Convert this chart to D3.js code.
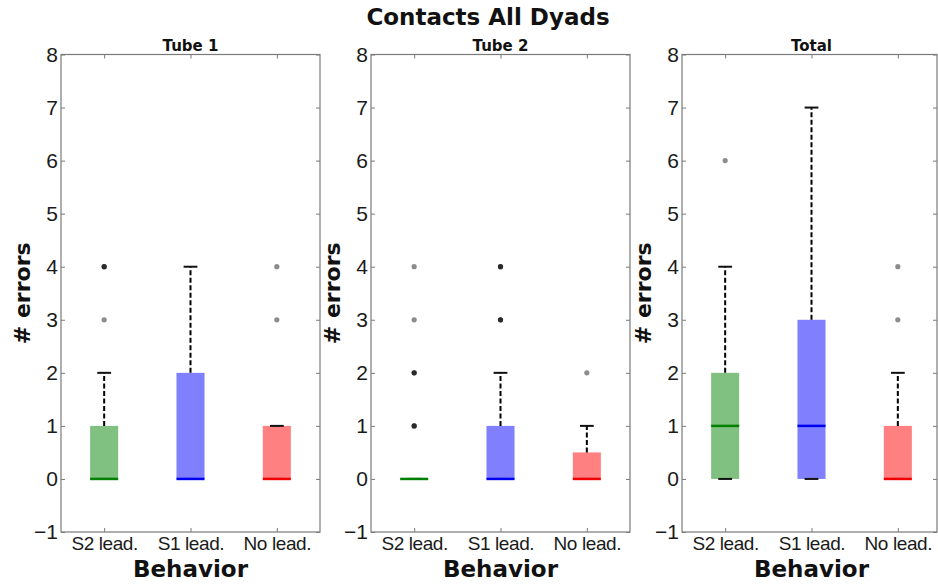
<!DOCTYPE html>
<html>
<head>
<meta charset="utf-8">
<script src="https://cdn.jsdelivr.net/npm/d3@7"></script>
<style>
  html, body { margin: 0; padding: 0; background: #fff; }
  svg { display: block; }
</style>
</head>
<body>
<svg id="chart" width="938" height="584"></svg>
<script>
// ---- data ----
const chartTitle = "Contacts All Dyads";
const panelTitles = ["Tube 1", "Tube 2", "Total"];
const categories = ["S2 lead.", "S1 lead.", "No lead."];
const yTicks = [-1, 0, 1, 2, 3, 4, 5, 6, 7, 8];
const xLabel = "Behavior";
const yLabel = "# errors";
// per panel, per category
const q1Values = [[0, 0, 0], [0, 0, 0], [0, 0, 0]];
const medianValues = [[0, 0, 0], [0, 0, 0], [1, 1, 0]];
const q3Values = [[1, 2, 1], [0, 1, 0.5], [2, 3, 1]];
const whiskerLowValues = [[0, 0, 0], [0, 0, 0], [0, 0, 0]];
const whiskerHighValues = [[2, 4, 1], [0, 2, 1], [4, 7, 2]];
// outliers (repeated values = overlapping points, drawn darker)
const outlierValues = [
  [[3, 4, 4, 4], [], [3, 4]],
  [[1, 1, 1, 2, 2, 2, 3, 4], [3, 3, 3, 4, 4, 4], [2]],
  [[6], [], [3, 4]]
];
const boxFills = ["#80c080", "#8080ff", "#ff8080"];
const medianColors = ["#007f00", "#0000f0", "#f00000"];

// ---- layout ----
const svg = d3.select("#chart");
const panelLefts = [61, 371, 682];
const panelWidth = 259;
const plotTop = 54.5, plotBottom = 532;
const y = d3.scaleLinear().domain([-1, 8]).range([plotBottom, plotTop]);
const boxW = 0.325, capW = 0.16;
const spineColor = "#7a7a7a";

svg.append("text")
  .attr("x", 488).attr("y", 25)
  .attr("text-anchor", "middle")
  .style("font-family", "DejaVu Sans").style("font-weight", "bold")
  .style("font-size", "23px").attr("fill", "#111")
  .text(chartTitle);

panelTitles.forEach((pt, p) => {
  const left = panelLefts[p];
  const right = Math.min(left + panelWidth, 937);
  const x = d3.scaleLinear().domain([0.5, 3.5]).range([left, left + panelWidth]);
  const g = svg.append("g");

  // boxes
  categories.forEach((c, i) => {
    const cx = x(i + 1);
    const hw = (x(1 + boxW / 2) - x(1));
    const cw = (x(1 + capW / 2) - x(1));
    const q1 = q1Values[p][i], q3 = q3Values[p][i];
    if (q3 > q1) {
      g.append("rect")
        .attr("x", cx - hw).attr("width", 2 * hw)
        .attr("y", y(q3)).attr("height", y(q1) - y(q3))
        .attr("fill", boxFills[i]);
    }
    // whiskers
    g.append("line")
      .attr("x1", cx).attr("x2", cx)
      .attr("y1", y(q3)).attr("y2", y(whiskerHighValues[p][i]))
      .attr("stroke", "#000").attr("stroke-width", 2)
      .attr("stroke-dasharray", "5,2.5");
    g.append("line")
      .attr("x1", cx).attr("x2", cx)
      .attr("y1", y(q1)).attr("y2", y(whiskerLowValues[p][i]))
      .attr("stroke", "#000").attr("stroke-width", 2)
      .attr("stroke-dasharray", "5,2.5");
    // caps
    [whiskerHighValues[p][i], whiskerLowValues[p][i]].forEach(v => {
      g.append("line")
        .attr("x1", cx - cw).attr("x2", cx + cw)
        .attr("y1", y(v)).attr("y2", y(v))
        .attr("stroke", "#111").attr("stroke-width", 2);
    });
    // median
    g.append("line")
      .attr("x1", cx - hw).attr("x2", cx + hw)
      .attr("y1", y(medianValues[p][i])).attr("y2", y(medianValues[p][i]))
      .attr("stroke", medianColors[i]).attr("stroke-width", 2.5);
    // outliers
    g.selectAll(null).data(outlierValues[p][i]).enter().append("circle")
      .attr("cx", cx).attr("cy", d => y(d)).attr("r", 2.6)
      .attr("fill", "#000").attr("fill-opacity", 0.45);
  });

  // axes (inward ticks)
  const axLeft = g.append("g").attr("transform", `translate(${left},0)`)
    .call(d3.axisLeft(y).tickValues(yTicks).tickSize(-4).tickPadding(3));
  const axRight = g.append("g").attr("transform", `translate(${right},0)`)
    .call(d3.axisRight(y).tickValues(yTicks).tickSize(-4).tickFormat(""));
  const axTop = g.append("g").attr("transform", `translate(0,${plotTop})`)
    .call(d3.axisTop(x).tickValues([1, 2, 3]).tickSize(-4).tickFormat(""));
  const axBottom = g.append("g").attr("transform", `translate(0,${plotBottom})`)
    .call(d3.axisBottom(x).tickValues([1, 2, 3]).tickSize(-4).tickPadding(5)
      .tickFormat((d, i) => categories[i]));
  [axLeft, axRight, axTop, axBottom].forEach(a => {
    a.select(".domain").remove();
    a.selectAll(".tick line").attr("stroke", spineColor);
    a.selectAll("text").style("font-family", "Liberation Sans, Arial, sans-serif")
      .attr("fill", "#1a1a1a");
  });
  axLeft.selectAll("text").style("font-size", "21px");
  axBottom.selectAll("text").style("font-size", "19px").style("letter-spacing", "-0.4px");

  // frame
  g.append("rect")
    .attr("x", left).attr("y", plotTop)
    .attr("width", right - left).attr("height", plotBottom - plotTop)
    .attr("fill", "none").attr("stroke", spineColor).attr("stroke-width", 1.2);

  // panel title
  g.append("text")
    .attr("x", left + panelWidth / 2).attr("y", 50.5)
    .attr("text-anchor", "middle")
    .style("font-family", "DejaVu Sans").style("font-weight", "bold")
    .style("font-size", "15px").attr("fill", "#111")
    .text(pt);

  // x label
  g.append("text")
    .attr("x", left + panelWidth / 2).attr("y", 577)
    .attr("text-anchor", "middle")
    .style("font-family", "DejaVu Sans").style("font-weight", "bold")
    .style("font-size", "23px").attr("fill", "#111")
    .text(xLabel);

  // y label
  g.append("text")
    .attr("transform", `translate(${left - 31},${(plotTop + plotBottom) / 2}) rotate(-90)`)
    .attr("text-anchor", "middle")
    .style("font-family", "DejaVu Sans").style("font-weight", "bold")
    .style("font-size", "22px").attr("fill", "#111")
    .text(yLabel);
});
</script>
</body>
</html>
